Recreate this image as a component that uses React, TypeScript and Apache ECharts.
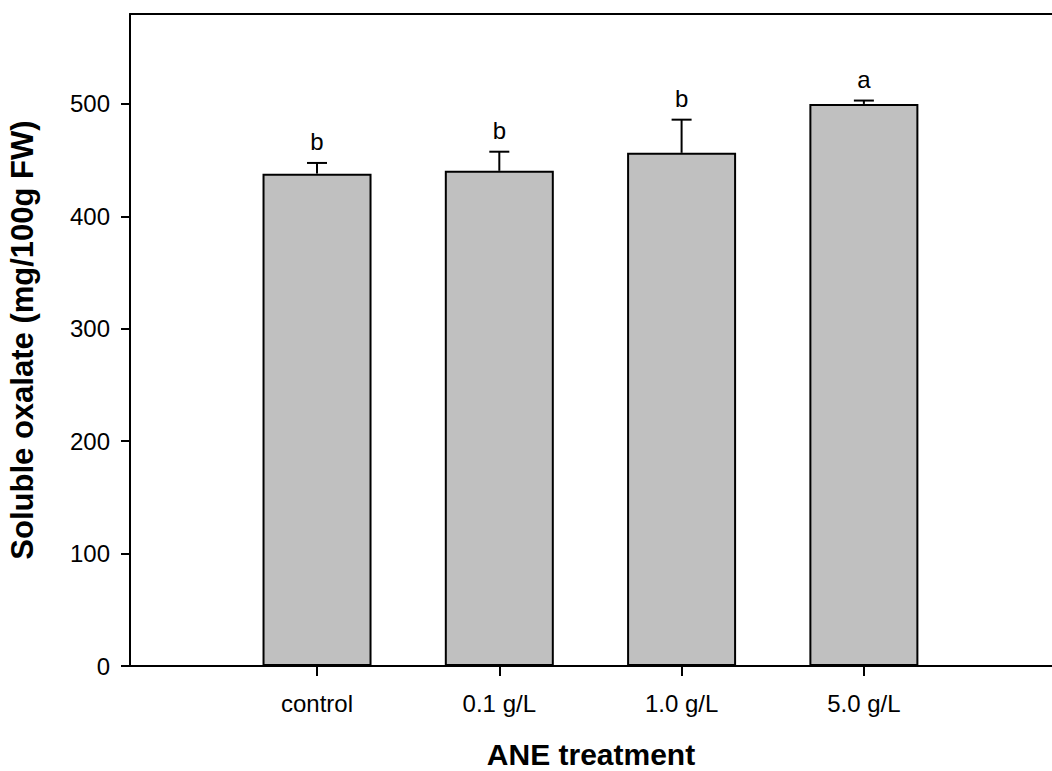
import React, { useEffect, useRef } from "react";
import * as echarts from "echarts";

const categories = ["control", "0.1 g/L", "1.0 g/L", "5.0 g/L"];
const positions = [1, 2, 3, 4];
const means = [438, 440.5, 456.5, 500];
const errors = [9.5, 17, 29.5, 3];
const letters = ["b", "b", "b", "a"];
const yTicks = [0, 100, 200, 300, 400, 500];

const FONT = "'Liberation Sans', Arial, sans-serif";

export default function App() {
  const ref = useRef<HTMLDivElement>(null);
  useEffect(() => {
    if (!ref.current) return;
    const chart = echarts.init(ref.current, null, { renderer: "svg" });
    const option: any = {
      animation: false,
      backgroundColor: "#ffffff",
      grid: {
        left: 130,
        right: 0,
        top: 14,
        bottom: 105,
        containLabel: false,
        outerBoundsMode: "none",
      },
      xAxis: [
        {
          type: "value",
          min: -0.026,
          max: 5.032,
          splitLine: { show: false },
          axisLine: { show: true, onZero: false, lineStyle: { color: "#000", width: 2 } },
          axisTick: {
            show: true,
            customValues: positions,
            length: 10,
            lineStyle: { color: "#000", width: 2 },
          },
          axisLabel: {
            customValues: positions,
            formatter: (v: number) => {
              const i = positions.indexOf(Math.round(v));
              return i >= 0 ? categories[i] : "";
            },
            color: "#000",
            fontSize: 24,
            fontFamily: FONT,
            margin: 25,
          },
          name: "ANE treatment",
          nameLocation: "middle",
          nameGap: 73,
          nameTextStyle: {
            color: "#000",
            fontSize: 30,
            lineHeight: 30,
            fontWeight: "bold",
            fontFamily: FONT,
          },
        },
        {
          type: "value",
          position: "top",
          min: -0.026,
          max: 5.032,
          splitLine: { show: false },
          axisLine: { show: true, onZero: false, lineStyle: { color: "#000", width: 2 } },
          axisTick: { show: false },
          axisLabel: { show: false },
        },
      ],
      yAxis: {
        type: "value",
        min: 0,
        max: 580,
        splitLine: { show: false },
        axisLine: { show: true, onZero: false, lineStyle: { color: "#000", width: 2 } },
        axisTick: {
          show: true,
          customValues: yTicks,
          length: 9,
          lineStyle: { color: "#000", width: 2 },
        },
        axisLabel: {
          customValues: yTicks,
          color: "#000",
          fontSize: 24,
          fontFamily: FONT,
          margin: 20,
        },
        name: "Soluble oxalate (mg/100g FW)",
        nameLocation: "middle",
        nameGap: 92,
        nameTextStyle: { color: "#000", fontSize: 31, fontWeight: "bold", fontFamily: FONT },
      },
      series: [
        {
          type: "bar",
          data: positions.map((p, i) => [p, means[i]]),
          barWidth: 109,
          itemStyle: { color: "#c0c0c0", borderColor: "#000", borderWidth: 2 },
        },
        {
          type: "custom",
          data: positions.map((p, i) => [p, means[i], means[i] + errors[i]]),
          renderItem: (params: any, api: any) => {
            const x = api.value(0);
            const base = api.coord([x, api.value(1)]);
            const top = api.coord([x, api.value(2)]);
            const i = params.dataIndex;
            const ls = { stroke: "#000", lineWidth: 2 };
            return {
              type: "group",
              children: [
                { type: "line", shape: { x1: base[0], y1: base[1], x2: top[0], y2: top[1] }, style: ls },
                { type: "line", shape: { x1: top[0] - 10, y1: top[1], x2: top[0] + 10, y2: top[1] }, style: ls },
                {
                  type: "text",
                  x: top[0],
                  y: top[1] - 9,
                  style: {
                    text: letters[i],
                    align: "center",
                    verticalAlign: "bottom",
                    fontSize: 24,
                    fontFamily: FONT,
                    fill: "#000",
                  },
                },
              ],
            };
          },
          z: 5,
        },
      ],
    };
    chart.setOption(option);
    return () => chart.dispose();
  }, []);
  return (
    <div
      ref={ref}
      style={{ position: "absolute", left: 0, top: 0, width: 1052, height: 771 }}
    />
  );
}
